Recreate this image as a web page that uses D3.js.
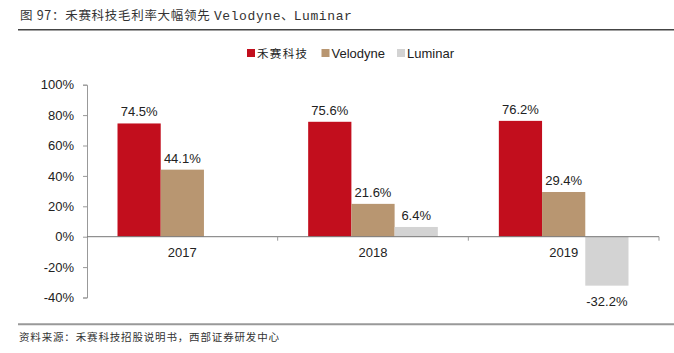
<!DOCTYPE html>
<html>
<head>
<meta charset="utf-8">
<script src="https://cdn.jsdelivr.net/npm/d3@7"></script>
<style>
  body { margin: 0; background: #fff; }
  svg { display: block; }
</style>
</head>
<body>
<div id="chart"></div>
<script>
const years = ["2017", "2018", "2019"];
const seriesNames = ["禾赛科技", "Velodyne", "Luminar"];
const hesai = [74.5, 75.6, 76.2];
const velodyne = [44.1, 21.6, 29.4];
const luminar = [null, 6.4, -32.2];
const yTicks = [-40, -20, 0, 20, 40, 60, 80, 100];
const colors = ["#C20E1D", "#B89671", "#D3D3D3"];

const W = 674, H = 353;
const svg = d3.select("#chart").append("svg").attr("width", W).attr("height", H);

const fontCjk = "'Noto Sans CJK SC', 'DejaVu Sans', sans-serif";
const fontMono = "'Liberation Mono', 'Noto Sans CJK SC', monospace";
const fontNum = "'Liberation Sans', Arial, sans-serif";

// title + rules
const title = svg.append("text")
  .attr("x", 20).attr("y", 20)
  .attr("font-size", 12.5).attr("fill", "#333")
  .style("white-space", "pre");
[
  ["图 97：禾赛科技毛利率大幅领先 ", fontCjk, 0.7],
  ["Velodyne", fontMono, 0.6],
  ["、", fontCjk, 0],
  ["Luminar", fontMono, 0.6]
].forEach(([txt, fam, ls]) => {
  title.append("tspan").attr("font-family", fam).attr("letter-spacing", ls)
    .attr("font-size", fam === fontMono ? 13 : 12.5).text(txt);
});
svg.append("line").attr("x1", 18).attr("x2", W).attr("y1", 29.7).attr("y2", 29.7)
  .attr("stroke", "#444").attr("stroke-width", 1.5);
svg.append("line").attr("x1", 18).attr("x2", W).attr("y1", 324.3).attr("y2", 324.3)
  .attr("stroke", "#999").attr("stroke-width", 2);
svg.append("text")
  .attr("x", 19).attr("y", 341)
  .attr("font-family", fontCjk).attr("font-size", 10.5).attr("fill", "#333")
  .attr("textLength", 260).attr("lengthAdjust", "spacing")
  .text("资料来源：禾赛科技招股说明书，西部证券研发中心");

// scales
const y = d3.scaleLinear().domain([-40, 100]).range([297.5, 84.7]);
const x0 = d3.scaleBand().domain(years).range([87, 659]).paddingInner(0.32).paddingOuter(0.16);
const x1 = d3.scaleBand().domain(seriesNames).range([0, x0.bandwidth()]);

// y axis
const yAxis = svg.append("g").attr("transform", "translate(87,0)")
  .call(d3.axisLeft(y).tickValues(yTicks).tickSize(4).tickPadding(9).tickFormat(d => d + "%"));
yAxis.select(".domain").attr("stroke", "#999");
yAxis.selectAll(".tick line").attr("stroke", "#999");
yAxis.selectAll(".tick text").attr("font-family", fontNum).attr("font-size", 13).attr("fill", "#222");

// bars
const data = [hesai, velodyne, luminar];
years.forEach((yr, i) => {
  seriesNames.forEach((s, j) => {
    const v = data[j][i];
    if (v == null) return;
    const bx = x0(yr) + x1(s);
    svg.append("rect")
      .attr("x", bx).attr("width", x1.bandwidth())
      .attr("y", y(Math.max(0, v))).attr("height", Math.abs(y(v) - y(0)))
      .attr("fill", colors[j]);
    svg.append("text")
      .attr("x", bx + x1.bandwidth() / 2)
      .attr("y", v >= 0 ? y(v) - 7 : y(v) + 20)
      .attr("text-anchor", "middle")
      .attr("font-family", fontNum).attr("font-size", 13).attr("fill", "#222")
      .text(v.toFixed(1) + "%");
  });
});

// category axis at zero
const xAxis = svg.append("g").attr("transform", `translate(0,${y(0)})`);
xAxis.append("line").attr("x1", 87).attr("x2", 659).attr("stroke", "#777");
const step = (659 - 87) / years.length;
d3.range(1, years.length + 1).forEach(k => {
  xAxis.append("line").attr("x1", 87 + step * k).attr("x2", 87 + step * k)
    .attr("y1", 0).attr("y2", 4).attr("stroke", "#999");
});
years.forEach(yr => {
  xAxis.append("text")
    .attr("x", x0(yr) + x0.bandwidth() / 2).attr("y", 20)
    .attr("text-anchor", "middle")
    .attr("font-family", fontNum).attr("font-size", 13).attr("fill", "#222")
    .text(yr);
});

// legend
const legendX = [247, 321.5, 397];
const legend = svg.append("g");
seriesNames.forEach((s, j) => {
  legend.append("rect").attr("x", legendX[j]).attr("y", 49).attr("width", 8).attr("height", 8)
    .attr("fill", colors[j]);
  const t = legend.append("text").attr("x", legendX[j] + 10).attr("y", 58)
    .attr("font-family", j === 0 ? fontCjk : fontNum).attr("font-size", j === 0 ? 11.5 : 13)
    .attr("fill", "#222")
    .text(s);
  if (j === 0) t.attr("textLength", 50).attr("lengthAdjust", "spacing");
});
</script>
</body>
</html>
